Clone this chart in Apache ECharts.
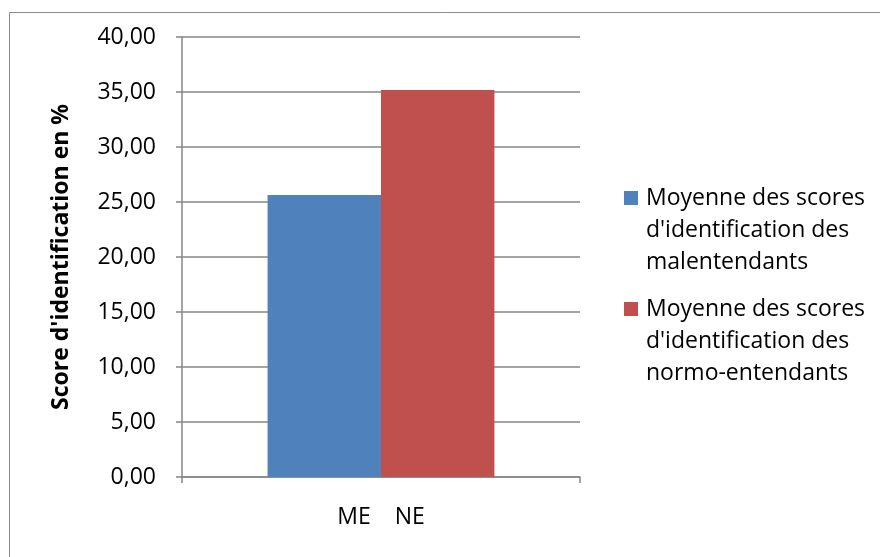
<!DOCTYPE html>
<html>
<head>
<meta charset="utf-8">
<script src="https://cdn.jsdelivr.net/npm/echarts@6/dist/echarts.min.js"></script>
<style>
html,body{margin:0;padding:0;background:#fff;}
#c{width:880px;height:557px;}
</style>
</head>
<body>
<div id="c"></div>
<script>
const categories = ['ME    NE'];
const seriesNames = [
  "Moyenne des scores\nd'identification des\nmalentendants",
  "Moyenne des scores\nd'identification des\nnormo-entendants"
];
const valuesME = [25.64];
const valuesNE = [35.18];
const yTicks = [0, 5, 10, 15, 20, 25, 30, 35, 40];
const yAxisTitle = "Score d'identification en %";
const colors = ['#4f81bd', '#c0504d'];

const FONT = 'Open Sans';
const FS = 23;
const chart = echarts.init(document.getElementById('c'), null, {renderer: 'canvas'});
chart.setOption({
  animation: false,
  backgroundColor: '#fff',
  textStyle: {fontFamily: FONT},
  graphic: [{
    type: 'rect', z: -1,
    shape: {x: 9.5, y: 12.5, width: 900, height: 600},
    style: {fill: '#fff', stroke: '#8c8c8c', lineWidth: 1}
  }],
  grid: {left: 182, top: 37, width: 398, height: 440, containLabel: false},
  legend: {
    orient: 'vertical',
    left: 619, top: 182, padding: 0,
    itemWidth: 0, itemHeight: 0, itemGap: 15,
    icon: 'none',
    formatter: name => {
      const idx = seriesNames.indexOf(name);
      const lines = name.split('\n');
      return lines.map((l, i) => (i === 0 ? '{m' + idx + '|}{g|}' : '{s|}') + '{t|' + l + '}').join('\n');
    },
    textStyle: {
      fontFamily: FONT, fontSize: FS, color: '#000', lineHeight: 32,
      rich: {
        m0: {backgroundColor: colors[0], width: 14, height: 14},
        m1: {backgroundColor: colors[1], width: 14, height: 14},
        g: {width: 8},
        s: {width: 22},
        t: {fontFamily: FONT, fontSize: FS, color: '#000', lineHeight: 32}
      }
    },
    data: seriesNames
  },
  xAxis: {
    type: 'category',
    data: categories,
    axisLine: {show: true, lineStyle: {color: '#868686', width: 1.5}},
    axisTick: {show: true, length: 6, lineStyle: {color: '#868686', width: 1.5}},
    axisLabel: {color: '#000', fontSize: FS, fontFamily: FONT, margin: 29}
  },
  yAxis: {
    type: 'value',
    min: yTicks[0], max: yTicks[yTicks.length - 1], interval: 5,
    name: yAxisTitle,
    nameLocation: 'middle',
    nameGap: 109,
    nameTextStyle: {fontSize: FS, fontWeight: 'bold', color: '#000', fontFamily: FONT},
    axisLine: {show: true, lineStyle: {color: '#868686', width: 1.5}},
    axisTick: {show: true, inside: false, length: 6, lineStyle: {color: '#868686', width: 1.5}},
    splitLine: {show: true, lineStyle: {color: '#868686', width: 1.5}},
    axisLabel: {
      color: '#000', fontSize: FS, fontFamily: FONT, margin: 26,
      formatter: v => v.toFixed(2).replace('.', ',')
    }
  },
  series: [
    {name: seriesNames[0], type: 'bar', data: valuesME, barWidth: '28.5%', barGap: '0%',
     itemStyle: {color: colors[0]}},
    {name: seriesNames[1], type: 'bar', data: valuesNE, barWidth: '28.5%', barGap: '0%',
     itemStyle: {color: colors[1]}}
  ]
});
</script>
</body>
</html>
